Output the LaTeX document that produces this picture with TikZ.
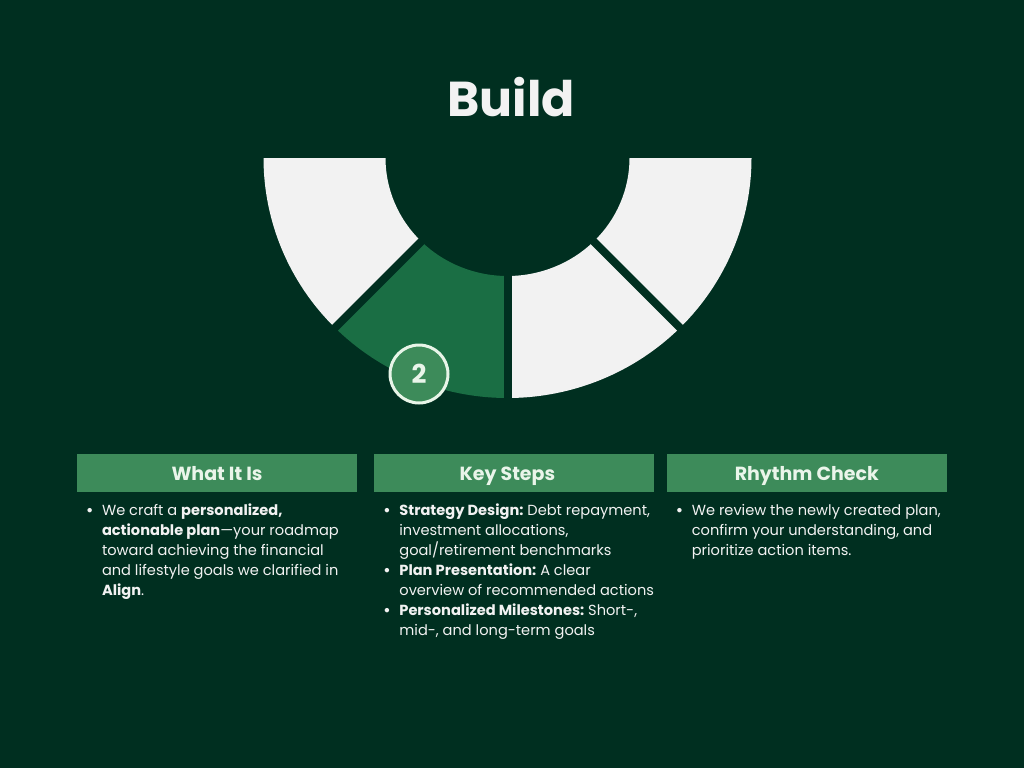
\documentclass[tikz,border=0pt]{standalone}
\usepackage{fontspec}
\setmainfont{Poppins}
\usetikzlibrary{positioning}
\definecolor{bgdark}{HTML}{002F20}
\definecolor{panelwhite}{HTML}{F2F2F2}
\definecolor{segmentgreen}{HTML}{1A6E44}
\definecolor{headgreen}{HTML}{3D8B5A}
\definecolor{paletext}{HTML}{EAF5EA}
\definecolor{ringwhite}{HTML}{E8F5E8}
\newcommand{\bul}{\makebox[16pt][l]{\textbf{\textbullet}}}
\frenchspacing
\begin{document}
\begin{tikzpicture}[x=1pt,y=-1pt,node distance=12pt]
    \tikzstyle{header}=[rectangle, fill=headgreen, minimum width=280pt, minimum height=38pt, inner sep=0pt, text height=15pt, text depth=1pt, text=paletext, font=\fontsize{19}{22}\selectfont\bfseries]
    \tikzstyle{body}=[inner sep=0pt, align=left, text=panelwhite, font=\fontsize{14.6}{20}\selectfont]
    \tikzstyle{gapline}=[draw=bgdark, line width=8pt]
    \fill[bgdark] (0,0) rectangle (1024,768);
    \useasboundingbox (0,0) rectangle (1024,768);
    \node[text=panelwhite, font=\fontsize{49}{54}\selectfont\bfseries] (title) at (511,97) {Build};
    % half ring in four parts
    \coordinate (hub) at (507.5,158);
    \fill[panelwhite] ([shift={(180:244 and 240)}]hub) arc[start angle=180, end angle=135, x radius=244, y radius=240]
        -- ([shift={(135:122 and 118)}]hub) arc[start angle=135, end angle=180, x radius=122, y radius=118] -- cycle;
    \fill[segmentgreen] ([shift={(135:244 and 240)}]hub) arc[start angle=135, end angle=90, x radius=244, y radius=240]
        -- ([shift={(90:122 and 118)}]hub) arc[start angle=90, end angle=135, x radius=122, y radius=118] -- cycle;
    \fill[panelwhite] ([shift={(90:244 and 240)}]hub) arc[start angle=90, end angle=45, x radius=244, y radius=240]
        -- ([shift={(45:122 and 118)}]hub) arc[start angle=45, end angle=90, x radius=122, y radius=118] -- cycle;
    \fill[panelwhite] ([shift={(45:244 and 240)}]hub) arc[start angle=45, end angle=0, x radius=244, y radius=240]
        -- ([shift={(0:122 and 118)}]hub) arc[start angle=0, end angle=45, x radius=122, y radius=118] -- cycle;
    \draw[gapline] ([shift={(135:110 and 106)}]hub) -- ([shift={(135:252 and 248)}]hub);
    \draw[gapline] ([shift={(90:110 and 106)}]hub) -- ([shift={(90:252 and 248)}]hub);
    \draw[gapline] ([shift={(45:110 and 106)}]hub) -- ([shift={(45:252 and 248)}]hub);
    \node[circle, draw=ringwhite, line width=3pt, fill=headgreen, minimum size=58pt, inner sep=0pt, text=paletext, font=\fontsize{26}{28}\selectfont\bfseries] (badge) at (419,374) {2};
    % three columns
    \node[header] (whatis) at (217,473) {What It Is};
    \node[header, right=17pt of whatis] (keysteps) {Key Steps\hspace*{14pt}};
    \node[header, right=12pt of keysteps] (rhythm) {Rhythm Check};
    \node[body, below right=9pt and 9pt of whatis.south west] (whatisbody) {%
      \begin{tabular}{@{}l@{}l@{}}
        \bul & We craft a \textbf{personalized,}\\
        & \textbf{actionable plan}—your roadmap\\
        & toward achieving the financial\\
        & and lifestyle goals we clarified in\\
        & \textbf{Align}.
      \end{tabular}};
    \node[body, below right=9pt and 9pt of keysteps.south west] (keystepsbody) {%
      \begin{tabular}{@{}l@{}l@{}}
        \bul & \textbf{Strategy Design:} Debt repayment,\\
        & investment allocations,\\
        & goal/retirement benchmarks\\
        \bul & \textbf{Plan Presentation:} A clear\\
        & overview of recommended actions\\
        \bul & \textbf{Personalized Milestones:} Short-,\\
        & mid-, and long-term goals
      \end{tabular}};
    \node[body, below right=9pt and 9pt of rhythm.south west] (rhythmbody) {%
      \begin{tabular}{@{}l@{}l@{}}
        \bul & We review the newly created plan,\\
        & confirm your understanding, and\\
        & prioritize action items.
      \end{tabular}};
\end{tikzpicture}
\end{document}
